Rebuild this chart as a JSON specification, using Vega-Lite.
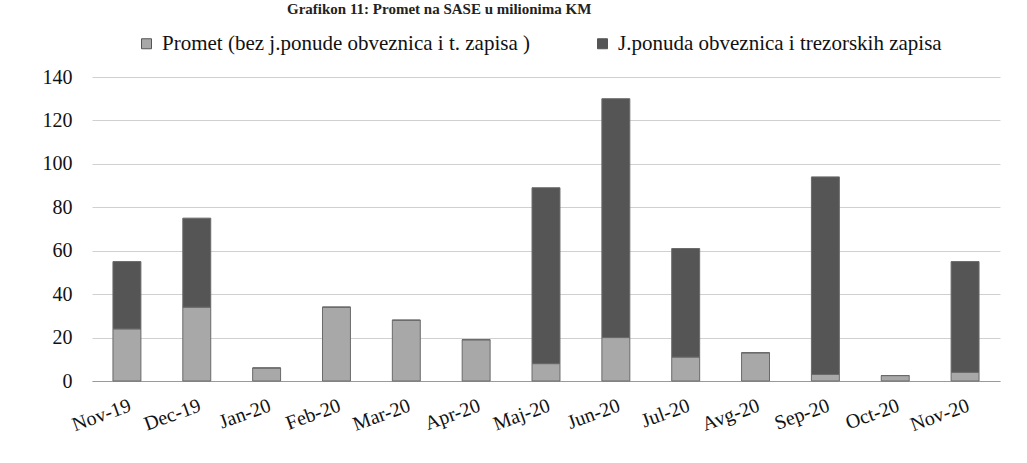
{
  "$schema": "https://vega.github.io/schema/vega-lite/v6.json",
  "width": 908,
  "height": 304,
  "autosize": {"type": "none"},
  "padding": {"left": 92, "top": 77, "right": 27, "bottom": 82},
  "background": "white",
  "title": {
    "text": "Grafikon 11: Promet na SASE u milionima KM",
    "font": "Liberation Serif", "fontSize": 15, "fontWeight": "bold", "color": "#222222",
    "anchor": "start", "frame": "group", "dx": 195, "baseline": "alphabetic", "offset": 4
  },
  "data": {"values": [
    {"mjesec": "Nov-19", "serija": "Promet (bez j.ponude obveznica i t. zapisa )", "red": 1, "vrijednost": 24},
    {"mjesec": "Nov-19", "serija": "J.ponuda obveznica i trezorskih zapisa", "red": 2, "vrijednost": 31},
    {"mjesec": "Dec-19", "serija": "Promet (bez j.ponude obveznica i t. zapisa )", "red": 1, "vrijednost": 34},
    {"mjesec": "Dec-19", "serija": "J.ponuda obveznica i trezorskih zapisa", "red": 2, "vrijednost": 41},
    {"mjesec": "Jan-20", "serija": "Promet (bez j.ponude obveznica i t. zapisa )", "red": 1, "vrijednost": 6},
    {"mjesec": "Jan-20", "serija": "J.ponuda obveznica i trezorskih zapisa", "red": 2, "vrijednost": 0},
    {"mjesec": "Feb-20", "serija": "Promet (bez j.ponude obveznica i t. zapisa )", "red": 1, "vrijednost": 34},
    {"mjesec": "Feb-20", "serija": "J.ponuda obveznica i trezorskih zapisa", "red": 2, "vrijednost": 0},
    {"mjesec": "Mar-20", "serija": "Promet (bez j.ponude obveznica i t. zapisa )", "red": 1, "vrijednost": 28},
    {"mjesec": "Mar-20", "serija": "J.ponuda obveznica i trezorskih zapisa", "red": 2, "vrijednost": 0},
    {"mjesec": "Apr-20", "serija": "Promet (bez j.ponude obveznica i t. zapisa )", "red": 1, "vrijednost": 19},
    {"mjesec": "Apr-20", "serija": "J.ponuda obveznica i trezorskih zapisa", "red": 2, "vrijednost": 0},
    {"mjesec": "Maj-20", "serija": "Promet (bez j.ponude obveznica i t. zapisa )", "red": 1, "vrijednost": 8},
    {"mjesec": "Maj-20", "serija": "J.ponuda obveznica i trezorskih zapisa", "red": 2, "vrijednost": 81},
    {"mjesec": "Jun-20", "serija": "Promet (bez j.ponude obveznica i t. zapisa )", "red": 1, "vrijednost": 20},
    {"mjesec": "Jun-20", "serija": "J.ponuda obveznica i trezorskih zapisa", "red": 2, "vrijednost": 110},
    {"mjesec": "Jul-20", "serija": "Promet (bez j.ponude obveznica i t. zapisa )", "red": 1, "vrijednost": 11},
    {"mjesec": "Jul-20", "serija": "J.ponuda obveznica i trezorskih zapisa", "red": 2, "vrijednost": 50},
    {"mjesec": "Avg-20", "serija": "Promet (bez j.ponude obveznica i t. zapisa )", "red": 1, "vrijednost": 13},
    {"mjesec": "Avg-20", "serija": "J.ponuda obveznica i trezorskih zapisa", "red": 2, "vrijednost": 0},
    {"mjesec": "Sep-20", "serija": "Promet (bez j.ponude obveznica i t. zapisa )", "red": 1, "vrijednost": 3},
    {"mjesec": "Sep-20", "serija": "J.ponuda obveznica i trezorskih zapisa", "red": 2, "vrijednost": 91},
    {"mjesec": "Oct-20", "serija": "Promet (bez j.ponude obveznica i t. zapisa )", "red": 1, "vrijednost": 2.5},
    {"mjesec": "Oct-20", "serija": "J.ponuda obveznica i trezorskih zapisa", "red": 2, "vrijednost": 0},
    {"mjesec": "Nov-20", "serija": "Promet (bez j.ponude obveznica i t. zapisa )", "red": 1, "vrijednost": 4},
    {"mjesec": "Nov-20", "serija": "J.ponuda obveznica i trezorskih zapisa", "red": 2, "vrijednost": 51}
  ]},
  "mark": {"type": "bar", "stroke": "#6a6a6a", "strokeWidth": 1},
  "encoding": {
    "x": {
      "field": "mjesec", "type": "ordinal", "sort": null,
      "scale": {"paddingInner": 0.6, "paddingOuter": 0.3},
      "axis": {
        "title": null, "labelAngle": -20, "labelFont": "Liberation Serif", "labelFontSize": 20,
        "labelColor": "#111111", "ticks": false, "domainColor": "#9a9a9a", "labelPadding": 14,
        "labelAlign": "right", "labelBaseline": "top"
      }
    },
    "y": {
      "field": "vrijednost", "type": "quantitative", "stack": "zero",
      "scale": {"domain": [0, 140], "nice": false},
      "axis": {
        "title": null, "values": [0, 20, 40, 60, 80, 100, 120, 140], "labelFont": "Liberation Serif",
        "labelFontSize": 20, "labelColor": "#111111", "domain": false, "ticks": false,
        "labelPadding": 20, "gridColor": "#d0d0d0"
      }
    },
    "color": {
      "field": "serija", "type": "nominal",
      "sort": ["Promet (bez j.ponude obveznica i t. zapisa )", "J.ponuda obveznica i trezorskih zapisa"],
      "scale": {
        "domain": ["Promet (bez j.ponude obveznica i t. zapisa )", "J.ponuda obveznica i trezorskih zapisa"],
        "range": ["#a8a8a8", "#555555"]
      },
      "legend": {
        "title": null, "orient": "none", "direction": "horizontal", "legendX": 44, "legendY": -44,
        "labelFont": "Liberation Serif", "labelFontSize": 21, "labelColor": "#111111",
        "symbolType": "square", "symbolSize": 100, "symbolStrokeColor": "#555555", "symbolStrokeWidth": 1,
        "labelOffset": 5, "columnPadding": 62, "labelLimit": 600
      }
    },
    "order": {"field": "red", "type": "quantitative"}
  },
  "config": {"view": {"stroke": null}}
}
